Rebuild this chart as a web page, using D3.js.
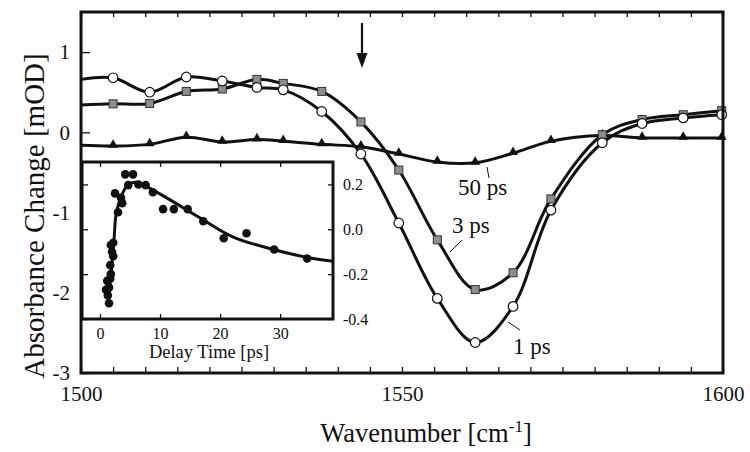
<!DOCTYPE html>
<html lang="en">
<head>
<meta charset="UTF-8">
<title>Transient absorbance spectra</title>
<script src="https://d3js.org/d3.v7.min.js"></script>
<style>
  body { margin: 0; background: #fff; }
  svg text { font-family: "Liberation Serif", "DejaVu Serif", serif; fill: #111; }
  .axis line { stroke: #111; stroke-width: 1.3px; }
  .axis path { display: none; }
</style>
</head>
<body>
<svg id="chart" width="750" height="452"></svg>
<script>
  // spectra (wavenumber in cm-1, absorbance change in mOD); first point is the curve start, no marker
  const wavenumber = [1500, 1505.0, 1510.7, 1516.4, 1522.0, 1527.4, 1531.5, 1537.5, 1543.6, 1549.5,
    1555.5, 1561.4, 1567.3, 1573.2, 1581.2, 1587.4, 1593.8, 1599.8];
  const od1ps = [0.66, 0.68, 0.50, 0.69, 0.64, 0.56, 0.53, 0.26, -0.27, -1.13,
    -2.07, -2.62, -2.17, -0.97, -0.13, 0.11, 0.18, 0.22];
  const od3ps = [0.34, 0.355, 0.36, 0.51, 0.54, 0.66, 0.61, 0.51, 0.13, -0.47,
    -1.34, -1.96, -1.75, -0.83, -0.03, 0.16, 0.22, 0.27];
  const od50ps = [-0.16, -0.17, -0.15, -0.06, -0.12, -0.09, -0.11, -0.15, -0.18, -0.27,
    -0.37, -0.38, -0.26, -0.11, -0.04, -0.07, -0.07, -0.07];

  // inset: kinetics (delay time in ps)
  const delayTime = [1.0, 1.2, 1.3, 1.5, 1.5, 1.7, 1.7, 1.8, 1.8, 2.0, 2.2, 2.2, 2.5, 3.0, 3.5, 3.7,
    4.2, 4.7, 5.5, 6.4, 7.6, 8.8, 10.5, 12.3, 14.6, 17.2, 20.6, 24.4, 29.0, 34.5];
  const kinetics = [-0.27, -0.23, -0.295, -0.26, -0.33, -0.22, -0.16, -0.20, -0.07, -0.10, -0.06, -0.12,
    0.16, 0.076, 0.14, 0.116, 0.245, 0.197, 0.245, 0.20, 0.197, 0.165, 0.09, 0.09, 0.09, 0.036,
    -0.04, -0.018, -0.09, -0.13];
  const fitTime = [1.5, 2.3, 2.7, 3.6, 4.7, 6.1, 7.8, 11.1, 16.7, 22.2, 28.9, 34.4, 38.8];
  const fitValue = [-0.30, -0.06, 0.07, 0.15, 0.20, 0.21, 0.19, 0.14, 0.05, -0.035, -0.09, -0.125, -0.143];

  const xTicks = d3.range(1500, 1601, 5);
  const xLabels = [1500, 1550, 1600];
  const yTicks = [-3, -2, -1, 0, 1];
  const insetXTicks = [0, 10, 20, 30];
  const insetYTicks = [-0.4, -0.2, 0, 0.2];

  const svg = d3.select("#chart");
  const frame = { left: 81, right: 723, top: 12, bottom: 373 };

  const x = d3.scaleLinear().domain([1500, 1600]).range([frame.left, frame.right]);
  const y = d3.scaleLinear().domain([-3, 1.5]).range([frame.bottom, frame.top]);

  // axes (ticks pointing inward)
  svg.append("g")
    .attr("class", "axis")
    .attr("transform", `translate(0,${frame.bottom})`)
    .call(d3.axisBottom(x).tickValues(xTicks).tickSize(-6).tickPadding(13)
      .tickFormat(d => xLabels.includes(d) ? d : ""))
    .selectAll("text").style("font-size", "21px");

  svg.append("g")
    .attr("class", "axis")
    .attr("transform", `translate(0,${frame.top})`)
    .call(d3.axisTop(x).tickValues(xTicks).tickSize(-5).tickFormat(""));

  svg.append("g")
    .attr("class", "axis")
    .attr("transform", `translate(${frame.left},0)`)
    .call(d3.axisLeft(y).tickValues(yTicks).tickSize(-9).tickPadding(11).tickFormat(d => String(d)))
    .selectAll("text").style("font-size", "21px");

  // spectra
  const line = (vals) => d3.line()
    .x((d, i) => x(wavenumber[i]))
    .y(d => y(d))
    .curve(d3.curveCatmullRom.alpha(0.5))(vals);

  [od1ps, od3ps, od50ps].forEach(vals => {
    svg.append("path")
      .attr("d", line(vals))
      .attr("fill", "none")
      .attr("stroke", "#111")
      .attr("stroke-width", 3);
  });

  const idx = d3.range(1, wavenumber.length);

  svg.append("g").selectAll("path")
    .data(idx)
    .join("path")
    .attr("d", d3.symbol(d3.symbolTriangle, 42))
    .attr("transform", i => `translate(${x(wavenumber[i])},${y(od50ps[i]) - 1})`)
    .attr("fill", "#111");

  svg.append("g").selectAll("rect")
    .data(idx)
    .join("rect")
    .attr("x", i => x(wavenumber[i]) - 4)
    .attr("y", i => y(od3ps[i]) - 4)
    .attr("width", 8)
    .attr("height", 8)
    .attr("fill", "#8e8e8e")
    .attr("stroke", "#333")
    .attr("stroke-width", 1);

  svg.append("g").selectAll("circle")
    .data(idx)
    .join("circle")
    .attr("cx", i => x(wavenumber[i]))
    .attr("cy", i => y(od1ps[i]))
    .attr("r", 4.8)
    .attr("fill", "#fff")
    .attr("stroke", "#111")
    .attr("stroke-width", 1.2);

  // series labels with leader lines
  const labels = [
    { text: "50 ps", tx: 458, ty: 195, l: [487, 167, 489, 178] },
    { text: "3 ps", tx: 452, ty: 233, l: [450, 252, 462, 240] },
    { text: "1 ps", tx: 513, ty: 354, l: [508, 322, 520, 330] }
  ];
  labels.forEach(d => {
    svg.append("text").attr("x", d.tx).attr("y", d.ty).style("font-size", "23px").text(d.text);
    svg.append("line")
      .attr("x1", d.l[0]).attr("y1", d.l[1]).attr("x2", d.l[2]).attr("y2", d.l[3])
      .attr("stroke", "#111").attr("stroke-width", 1);
  });

  // excitation arrow
  svg.append("line")
    .attr("x1", 362).attr("y1", 23).attr("x2", 362).attr("y2", 56)
    .attr("stroke", "#111").attr("stroke-width", 2.2);
  svg.append("path")
    .attr("d", "M356.5,53 L367.5,53 L362,68 Z")
    .attr("fill", "#111");

  // inset
  const inset = { left: 82, right: 333, top: 162, bottom: 319 };
  const ix = d3.scaleLinear().domain([-3, 38.8]).range([inset.left, inset.right]);
  const iy = d3.scaleLinear().domain([-0.4, 0.3]).range([inset.bottom, inset.top]);

  svg.append("rect")
    .attr("x", inset.left).attr("y", inset.top)
    .attr("width", inset.right - inset.left).attr("height", inset.bottom - inset.top)
    .attr("fill", "#fff");

  svg.append("g")
    .attr("class", "axis")
    .attr("transform", `translate(0,${inset.bottom})`)
    .call(d3.axisBottom(ix).tickValues(insetXTicks).tickSize(-5).tickPadding(9))
    .selectAll("text").style("font-size", "16px");
  svg.append("g")
    .attr("class", "axis")
    .attr("transform", `translate(0,${inset.top})`)
    .call(d3.axisTop(ix).tickValues(insetXTicks).tickSize(-5).tickFormat(""));
  svg.append("g")
    .attr("class", "axis")
    .attr("transform", `translate(${inset.right},0)`)
    .call(d3.axisRight(iy).tickValues(insetYTicks).tickSize(-5).tickPadding(10).tickFormat(d => d.toFixed(1)))
    .selectAll("text").style("font-size", "16px");
  svg.append("g")
    .attr("class", "axis")
    .attr("transform", `translate(${inset.left},0)`)
    .call(d3.axisLeft(iy).tickValues(insetYTicks).tickSize(-6).tickFormat(""));

  svg.append("path")
    .attr("d", d3.line().x((d, i) => ix(fitTime[i])).y(d => iy(d))
      .curve(d3.curveCatmullRom.alpha(0.5))(fitValue))
    .attr("fill", "none")
    .attr("stroke", "#111")
    .attr("stroke-width", 3);

  svg.append("g").selectAll("circle")
    .data(kinetics)
    .join("circle")
    .attr("cx", (d, i) => ix(delayTime[i]))
    .attr("cy", d => iy(d))
    .attr("r", 4.3)
    .attr("fill", "#111");

  svg.append("rect")
    .attr("x", inset.left).attr("y", inset.top)
    .attr("width", inset.right - inset.left).attr("height", inset.bottom - inset.top)
    .attr("fill", "none").attr("stroke", "#111").attr("stroke-width", 3);

  svg.append("text")
    .attr("x", 209).attr("y", 358)
    .attr("text-anchor", "middle")
    .style("font-size", "18.5px")
    .text("Delay Time [ps]");

  // main frame
  svg.append("rect")
    .attr("x", frame.left).attr("y", frame.top)
    .attr("width", frame.right - frame.left).attr("height", frame.bottom - frame.top)
    .attr("fill", "none").attr("stroke", "#111").attr("stroke-width", 3);

  // axis titles
  const xt = svg.append("text")
    .attr("x", 426).attr("y", 442)
    .attr("text-anchor", "middle")
    .style("font-size", "26.5px");
  xt.append("tspan").text("Wavenumber [cm");
  xt.append("tspan").attr("dy", -10).style("font-size", "17px").text("-1");
  xt.append("tspan").attr("dy", 10).text("]");

  svg.append("text")
    .attr("transform", "translate(44,216) rotate(-90)")
    .attr("text-anchor", "middle")
    .style("font-size", "29px")
    .text("Absorbance Change [mOD]");
</script>
</body>
</html>
